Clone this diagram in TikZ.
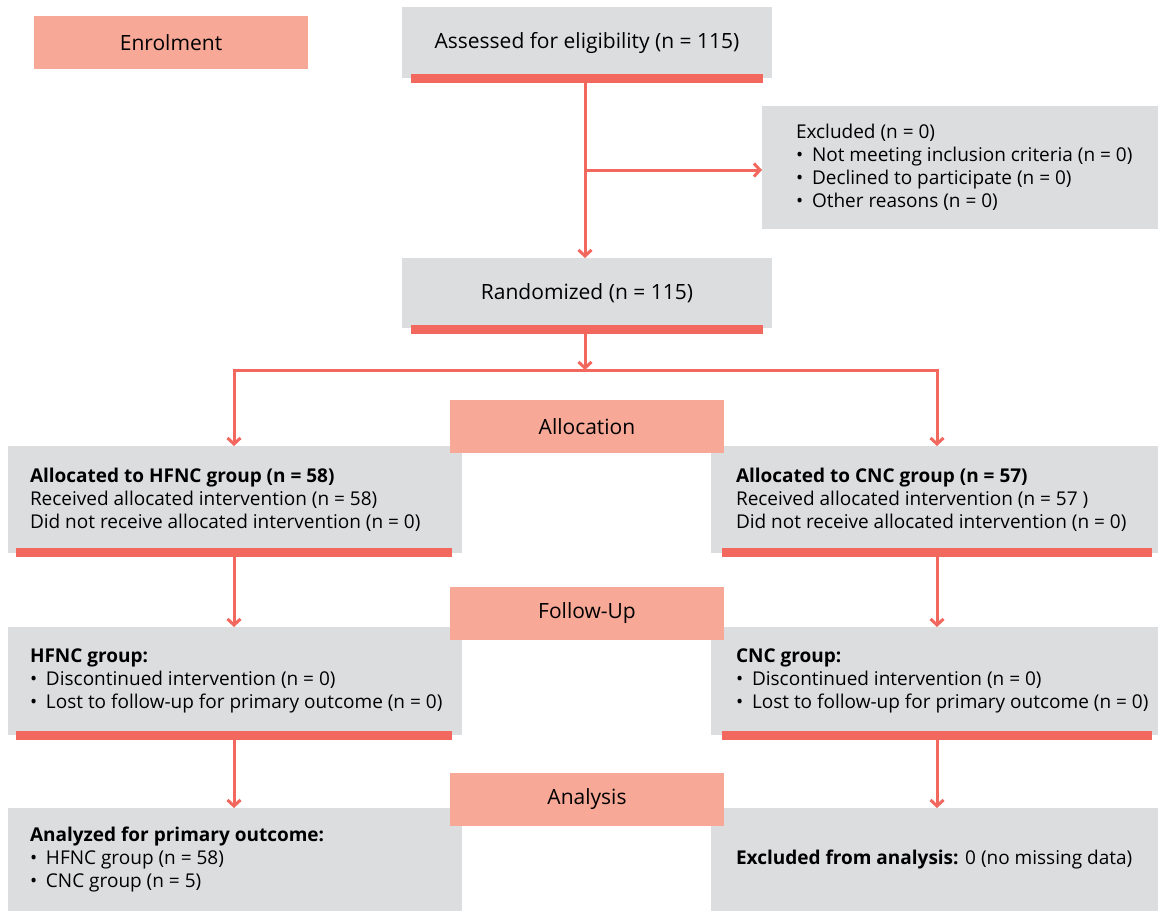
\documentclass[tikz,border=0pt]{standalone}
\usepackage{fontspec}
\setmainfont{Open Sans}
\usetikzlibrary{arrows.meta}

\definecolor{boxgray}{RGB}{220,221,223}
\definecolor{barred}{RGB}{242,104,94}
\definecolor{salmon}{RGB}{247,168,151}
\newcommand{\bul}{\makebox[16pt][l]{•}}

\tikzset{every picture/.style={line width=3pt}}

\begin{document}
\begin{tikzpicture}[x=1pt,y=1pt,yscale=-1,
  every node/.style={font=\fontsize{19}{23}\selectfont, inner sep=0pt, outer sep=0pt},
  graybox/.style={fill=boxgray, minimum width=#1},
  head/.style={font=\fontsize{21}{25}\selectfont},
  pinkbox/.style={fill=salmon, minimum width=274pt, minimum height=53pt, head},
  bar/.style={fill=barred, minimum width=#1, minimum height=9pt},
  txt/.style={anchor=west, align=left},
  arr/.style={draw=barred, line width=3pt, -{Straight Barb[length=6pt,width=13pt]}}]
\useasboundingbox (0,0) rectangle (1158,911);

% Enrolment
\node[graybox=370pt, minimum height=71pt, head] (assess) at (587,42.5) {Assessed for eligibility (n = 115)};
\node[bar=352pt] (assessbar) at (587,78.5) {};
\node[pinkbox] (enrol) at (171,42.5) {Enrolment};
\node[graybox=396pt, minimum height=123pt] (excl) at (960,167.5) {};
\node[txt] (excltxt) at ([xshift=34pt]excl.west) {Excluded (n = 0)\\
  \bul Not meeting inclusion criteria (n = 0)\\
  \bul Declined to participate (n = 0)\\
  \bul Other reasons (n = 0)};
\node[graybox=370pt, minimum height=70pt, head] (rand) at (587,293) {Randomized (n = 115)};
\node[bar=352pt] (randbar) at (587,329.5) {};
\coordinate (split) at (585,370);

% Allocation
\node[graybox=454pt, minimum height=107pt] (hfncA) at (235,499.5) {};
\node[bar=436pt] (hfncAbar) at (234,552.5) {};
\node[txt] (hfncAtxt) at ([xshift=22pt]hfncA.west) {\textbf{Allocated to HFNC group (n = 58)}\\
  Received allocated intervention (n = 58)\\
  Did not receive allocated intervention (n = 0)};
\node[graybox=447pt, minimum height=107pt] (cncA) at (934.5,499.5) {};
\node[bar=430pt] (cncAbar) at (937,552.5) {};
\node[txt] (cncAtxt) at ([xshift=25pt]cncA.west) {\textbf{Allocated to CNC group (n = 57)}\\
  Received allocated intervention (n = 57 )\\
  Did not receive allocated intervention (n = 0)};
\node[pinkbox] (alloc) at (587,426.5) {Allocation};

% Follow-Up
\node[graybox=454pt, minimum height=108pt] (fuH) at (235,681) {};
\node[bar=436pt] (fuHbar) at (234,735.5) {};
\node[txt] (fuHtxt) at ([xshift=22pt]fuH.west) {\textbf{HFNC group:}\\
  \bul Discontinued intervention (n = 0)\\
  \bul Lost to follow-up for primary outcome (n = 0)};
\node[graybox=447pt, minimum height=108pt] (fuC) at (934.5,681) {};
\node[bar=430pt] (fuCbar) at (937,735.5) {};
\node[txt] (fuCtxt) at ([xshift=25pt]fuC.west) {\textbf{CNC group:}\\
  \bul Discontinued intervention (n = 0)\\
  \bul Lost to follow-up for primary outcome (n = 0)};
\node[pinkbox] (follow) at (587,613.5) {Follow-Up};

% Analysis
\node[graybox=454pt, minimum height=103pt] (anH) at (235,859.5) {};
\node[txt] (anHtxt) at ([xshift=22pt]anH.west) {\textbf{Analyzed for primary outcome:}\\
  \bul HFNC group (n = 58)\\
  \bul CNC group (n = 5)};
\node[graybox=447pt, minimum height=103pt] (anC) at (934.5,859.5) {};
\node[txt] (anCtxt) at ([xshift=25pt]anC.west) {\textbf{Excluded from analysis:} 0 (no missing data)};
\node[pinkbox] (analysis) at (587,799.5) {Analysis};

% Connections
\draw[arr] (split |- assessbar.south) -- (split |- rand.north);
\draw[arr] ([yshift=2.5pt]split |- excl.west) -- ([yshift=2.5pt]excl.west);
\draw[arr] (split |- randbar.south) -- (split);
\draw[arr] (split) -| (hfncAbar.south |- hfncA.north);
\draw[arr] (split) -| (cncAbar.south |- cncA.north);
\draw[arr] (hfncAbar.south) -- (hfncAbar.south |- fuH.north);
\draw[arr] (cncAbar.south) -- (cncAbar.south |- fuC.north);
\draw[arr] (fuHbar.south) -- (fuHbar.south |- anH.north);
\draw[arr] (fuCbar.south) -- (fuCbar.south |- anC.north);

\end{tikzpicture}
\end{document}
